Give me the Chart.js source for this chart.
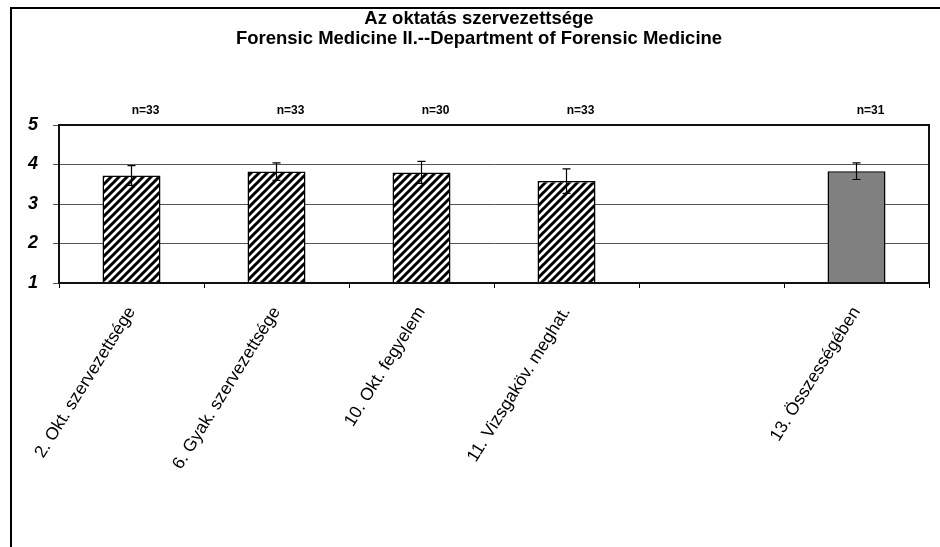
<!DOCTYPE html>
<html>
<head>
<meta charset="utf-8">
<script src="https://cdn.jsdelivr.net/npm/chart.js@4/dist/chart.umd.min.js"></script>
<style>
    html, body { margin: 0; padding: 0; background: #fff; }
    #wrap { width: 940px; height: 547px; position: relative; }
</style>
</head>
<body>
<div id="wrap"><canvas id="chart"></canvas></div>
<script>
const categories = ['2. Okt. szervezettsége', '6. Gyak. szervezettsége', '10. Okt. fegyelem', '11. Vizsgaköv. meghat.', '', '13. Összességében'];
const means = [3.72, 3.82, 3.80, 3.58, null, 3.83];
const errors = [0.25, 0.22, 0.28, 0.31, null, 0.21];
const nLabels = ['n=33', 'n=33', 'n=30', 'n=33', '', 'n=31'];
const yTicks = [1, 2, 3, 4, 5];
const titleLines = ['Az oktatás szervezettsége', 'Forensic Medicine II.--Department of Forensic Medicine'];

const FONT = '"Liberation Sans", Arial, sans-serif';

// diagonal hatch fill like the old Excel pattern
function makeHatch() {
    const c = document.createElement('canvas');
    c.width = 8;
    c.height = 8;
    const g = c.getContext('2d');
    g.fillStyle = '#fff';
    g.fillRect(0, 0, 8, 8);
    g.strokeStyle = '#000';
    g.lineWidth = 3;
    g.beginPath();
    g.moveTo(-2, 10); g.lineTo(10, -2);
    g.moveTo(-6, 6); g.lineTo(6, -6);
    g.moveTo(2, 14); g.lineTo(14, 2);
    g.stroke();
    return g.createPattern(c, 'repeat');
}

const hatch = makeHatch();
const barColors = categories.map((c, i) => i === 5 ? '#808080' : hatch);

const frame = {
    id: 'frame',
    beforeDraw(chart) {
        const ctx = chart.ctx;
        ctx.save();
        ctx.strokeStyle = '#000';
        ctx.lineWidth = 2;
        ctx.beginPath();
        ctx.moveTo(11, 547);
        ctx.lineTo(11, 8);
        ctx.lineTo(940, 8);
        ctx.stroke();

        // title
        ctx.fillStyle = '#000';
        ctx.font = 'bold 18.5px ' + FONT;
        ctx.textAlign = 'center';
        ctx.textBaseline = 'alphabetic';
        ctx.fillText(titleLines[0], 479, 24);
        ctx.fillText(titleLines[1], 479, 44);
        ctx.restore();
    },
    afterDraw(chart) {
        const a = chart.chartArea;
        const ctx = chart.ctx;
        ctx.save();
        ctx.strokeStyle = '#111';
        ctx.lineWidth = 2;
        ctx.strokeRect(a.left, a.top, a.right - a.left, a.bottom - a.top);
        ctx.restore();
    }
};

const errorBars = {
    id: 'errorBars',
    afterDatasetsDraw(chart) {
        const ctx = chart.ctx;
        const meta = chart.getDatasetMeta(0);
        const y = chart.scales.y;
        ctx.save();
        ctx.strokeStyle = '#000';
        ctx.lineWidth = 1.2;
        means.forEach((m, i) => {
            if (m === null) return;
            const x = meta.data[i].x;
            const top = y.getPixelForValue(m + errors[i]);
            const bot = y.getPixelForValue(m - errors[i]);
            ctx.beginPath();
            ctx.moveTo(x, top); ctx.lineTo(x, bot);
            ctx.moveTo(x - 4, top); ctx.lineTo(x + 4, top);
            ctx.moveTo(x - 4, bot); ctx.lineTo(x + 4, bot);
            ctx.stroke();
        });
        // n= counts above the plot
        ctx.fillStyle = '#000';
        ctx.font = 'bold 12px ' + FONT;
        ctx.textAlign = 'center';
        ctx.textBaseline = 'middle';
        nLabels.forEach((t, i) => {
            if (!t) return;
            ctx.fillText(t, meta.data[i].x + 14, 111);
        });
        ctx.restore();
    }
};

new Chart(document.getElementById('chart'), {
    type: 'bar',
    data: {
        labels: categories,
        datasets: [{
            data: means,
            backgroundColor: barColors,
            borderColor: '#000',
            borderWidth: 1.5,
            categoryPercentage: 1,
            barPercentage: 0.4
        }]
    },
    options: {
        responsive: true,
        maintainAspectRatio: false,
        animation: false,
        layout: { padding: { left: 0, right: 11, top: 125, bottom: 0 } },
        plugins: {
            legend: { display: false },
            tooltip: { enabled: false },
            title: { display: false }
        },
        scales: {
            x: {
                offset: true,
                grid: { offset: true, drawOnChartArea: false, drawTicks: true, tickLength: 5, color: '#000' },
                border: { color: '#000', width: 2 },
                ticks: {
                    color: '#000',
                    font: { family: FONT, size: 17.5 },
                    minRotation: 58,
                    maxRotation: 58,
                    autoSkip: false,
                    padding: 15
                },
                afterFit(scale) { scale.height = 264; }
            },
            y: {
                min: yTicks[0],
                max: yTicks[yTicks.length - 1],
                afterBuildTicks(scale) { scale.ticks = yTicks.map(v => ({ value: v })); },
                grid: { color: '#555', lineWidth: 1, tickLength: 6 },
                border: { color: '#000', width: 2 },
                ticks: {
                    color: '#000',
                    font: { family: FONT, size: 18, weight: 'bold', style: 'italic' },
                    padding: 15
                },
                afterFit(scale) { scale.width = 59; }
            }
        }
    },
    plugins: [frame, errorBars]
});
</script>
</body>
</html>
